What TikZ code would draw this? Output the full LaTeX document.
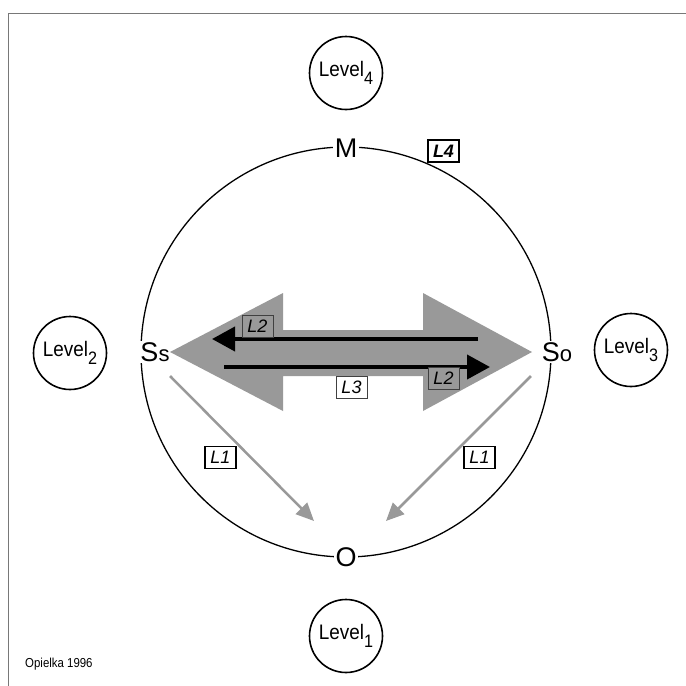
\documentclass[tikz,border=0pt]{standalone}
\usepackage{fontspec}
\setmainfont{Liberation Sans}
\usetikzlibrary{arrows.meta}
\definecolor{arrowgray}{RGB}{153,153,153}
\definecolor{framegray}{RGB}{120,120,120}
\begin{document}
\begin{tikzpicture}[x=1pt,y=-1pt,
  levelnode/.style={circle,draw,line width=1.6pt,minimum size=73pt,inner sep=0pt,font=\fontsize{21}{21}\selectfont},
  pole/.style={fill=white,inner sep=1.5pt,font=\fontsize{27}{27}\selectfont},
  tag/.style={draw,line width=0.8pt,minimum width=31pt,minimum height=22pt,inner sep=0pt,font=\fontsize{18}{18}\selectfont\itshape},
  flow/.style={line width=4pt,-{Triangle[length=23pt,width=24pt]}},
  drift/.style={draw=arrowgray,line width=2.5pt,-{Triangle[length=18pt,width=16pt]}}]
\useasboundingbox (0,0) rectangle (686,686);
% outer frame
\draw[framegray,line width=0.8pt] (8,686) -- (8,13) -- (686,13);
% main circle
\draw[line width=1.3pt] (346,352) circle[radius=205];
% poles on the circle
\node[pole] (M) at (346,148) {M};
\node[pole] (O) at (346,557) {O};
\node[pole] (Ss) at (155,352) {S\fontsize{22}{22}\selectfont s};
\node[pole] (So) at (557,352) {S\fontsize{22}{22}\selectfont o};
% level circles
\newcommand{\lvl}[1]{\scalebox{0.9}[1]{Level\raisebox{-0.4em}{\fontsize{18}{18}\selectfont #1}}}
\node[levelnode] (L4c) at (346,73) {\lvl{4}};
\node[levelnode] (L1c) at (346,636) {\lvl{1}};
\node[levelnode] (L2c) at (70,353) {\lvl{2}};
\node[levelnode] (L3c) at (631,350) {\lvl{3}};
% broad double arrow
\fill[arrowgray] (170,352) -- (283,293) -- (283,330) -- (423,330) -- (423,293)
  -- (532,352) -- (423,411) -- (423,376) -- (283,376) -- (283,411) -- cycle;
% exchange arrows
\coordinate (uS) at (478,339);
\coordinate (uE) at (212,339);
\coordinate (lS) at (224,367);
\coordinate (lE) at (490,367);
\draw[flow] (uS) -- (uE);
\draw[flow] (lS) -- (lE);
% arrows towards O
\coordinate (aL) at (170,376);
\coordinate (aR) at (531,376);
\coordinate (tL) at (314,521);
\coordinate (tR) at (386,521);
\draw[drift] (aL) -- (tL);
\draw[drift] (aR) -- (tR);
% labels
\node[tag,fill=arrowgray,draw=black!75] (l2a) at (257.5,326.5) {L2};
\node[tag,fill=arrowgray,draw=black!75] (l2b) at (443.5,378) {L2};
\node[tag,fill=white,draw=black!75] (l3) at (351.5,387) {L3};
\node[tag,fill=white,line width=1.2pt,font=\fontsize{18}{18}\selectfont\bfseries\itshape] (l4) at (443.5,151) {L4};
\node[tag,fill=white,line width=1.2pt] (l1a) at (220.5,457.5) {L1};
\node[tag,fill=white,line width=1.2pt] (l1b) at (479.5,457.5) {L1};
% credit
\node[anchor=west,inner sep=0pt,font=\fontsize{13}{13}\selectfont] (credit) at (25,664) {\scalebox{0.88}[1]{Opielka 1996}};
\end{tikzpicture}
\end{document}
